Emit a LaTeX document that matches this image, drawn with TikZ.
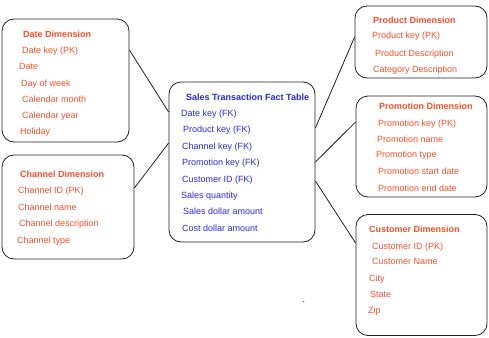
\documentclass[tikz,border=0pt]{standalone}
\usepackage{fontspec}
\setmainfont{Liberation Sans}
\definecolor{dimc}{RGB}{250,78,40}
\definecolor{factc}{RGB}{40,40,225}
\definecolor{linec}{RGB}{30,30,30}
\begin{document}
\begin{tikzpicture}[x=1pt,y=-1pt,
  box/.style={draw=linec, line width=0.8pt, rounded corners=12pt, inner sep=0pt},
  txt/.style={anchor=west, inner sep=0pt, yshift=-0.8pt, font=\fontsize{9}{11}\selectfont, text height=6.5pt, text depth=1.9pt},
  dtxt/.style={txt, text=dimc},
  dhead/.style={dtxt, font=\fontsize{9}{11}\selectfont\bfseries},
  ftxt/.style={txt, text=factc},
  fhead/.style={ftxt, font=\fontsize{9}{11}\selectfont\bfseries},
  conn/.style={draw=linec, line width=0.8pt}]
\useasboundingbox (0,0) rectangle (489,337);

% boxes
\node[box, minimum width=127pt, minimum height=123pt] (date) at (65.5,80.5) {};
\node[box, minimum width=132pt, minimum height=104pt] (chan) at (68,207) {};
\node[box, minimum width=146pt, minimum height=160pt] (fact) at (242,162) {};
\node[box, minimum width=132pt, minimum height=72pt] (prod) at (421,42) {};
\node[box, minimum width=131pt, minimum height=101pt] (promo) at (421.5,146.5) {};
\node[box, minimum width=131pt, minimum height=121pt] (cust) at (421.5,275) {};

% connectors
\draw[conn] (date.east |- 0,50) -- (fact.west |- 0,112);
\draw[conn] (chan.east |- 0,188) -- (fact.west |- 0,143);
\draw[conn] (fact.east |- 0,128) -- (prod.west |- 0,37);
\draw[conn] (fact.east |- 0,162) -- (promo.west |- 0,122);
\draw[conn] (fact.east |- 0,181) -- (cust.west |- 0,243);

% Date dimension
\node[dhead] (d0) at (23,34) {Date Dimension};
\node[dtxt] (d1) at (22,50) {Date key (PK)};
\node[dtxt] (d2) at (19,66) {Date};
\node[dtxt] (d3) at (21,83) {Day of week};
\node[dtxt] (d4) at (22,99) {Calendar month};
\node[dtxt] (d5) at (22,115) {Calendar year};
\node[dtxt] (d6) at (20,131) {Holiday};

% Channel dimension
\node[dhead] (c0) at (20,174) {Channel Dimension};
\node[dtxt] (c1) at (18,190) {Channel ID (PK)};
\node[dtxt] (c2) at (18,207) {Channel name};
\node[dtxt] (c3) at (19,223) {Channel description};
\node[dtxt] (c4) at (17,240) {Channel type};

% Fact table
\node[fhead] (f0) at (186,97) {Sales Transaction Fact Table};
\node[ftxt] (f1) at (181,113) {Date key (FK)};
\node[ftxt] (f2) at (183,129) {Product key (FK)};
\node[ftxt] (f3) at (182,146) {Channel key (FK)};
\node[ftxt] (f4) at (182,162) {Promotion key (FK)};
\node[ftxt] (f5) at (182,179) {Customer ID (FK)};
\node[ftxt] (f6) at (181,195) {Sales quantity};
\node[ftxt] (f7) at (183,211) {Sales dollar amount};
\node[ftxt] (f8) at (182,228) {Cost dollar amount};

% Product dimension
\node[dhead] (p0) at (373,20) {Product Dimension};
\node[dtxt] (p1) at (372,35) {Product key (PK)};
\node[dtxt] (p2) at (375,53) {Product Description};
\node[dtxt] (p3) at (373,69) {Category Description};

% Promotion dimension
\node[dhead] (m0) at (379,106) {Promotion Dimension};
\node[dtxt] (m1) at (378,123) {Promotion key (PK)};
\node[dtxt] (m2) at (377,139) {Promotion name};
\node[dtxt] (m3) at (376,154) {Promotion type};
\node[dtxt] (m4) at (378,171) {Promotion start date};
\node[dtxt] (m5) at (378,188) {Promotion end date};

% Customer dimension
\node[dhead] (u0) at (369,229) {Customer Dimension};
\node[dtxt] (u1) at (372,246) {Customer ID (PK)};
\node[dtxt] (u2) at (372,261) {Customer Name};
\node[dtxt] (u3) at (369,278) {City};
\node[dtxt] (u4) at (370,294) {State};
\node[dtxt] (u5) at (368,310) {Zip};

% stray dot
\node[txt] (dot) at (302.5,299) {.};
\end{tikzpicture}
\end{document}
